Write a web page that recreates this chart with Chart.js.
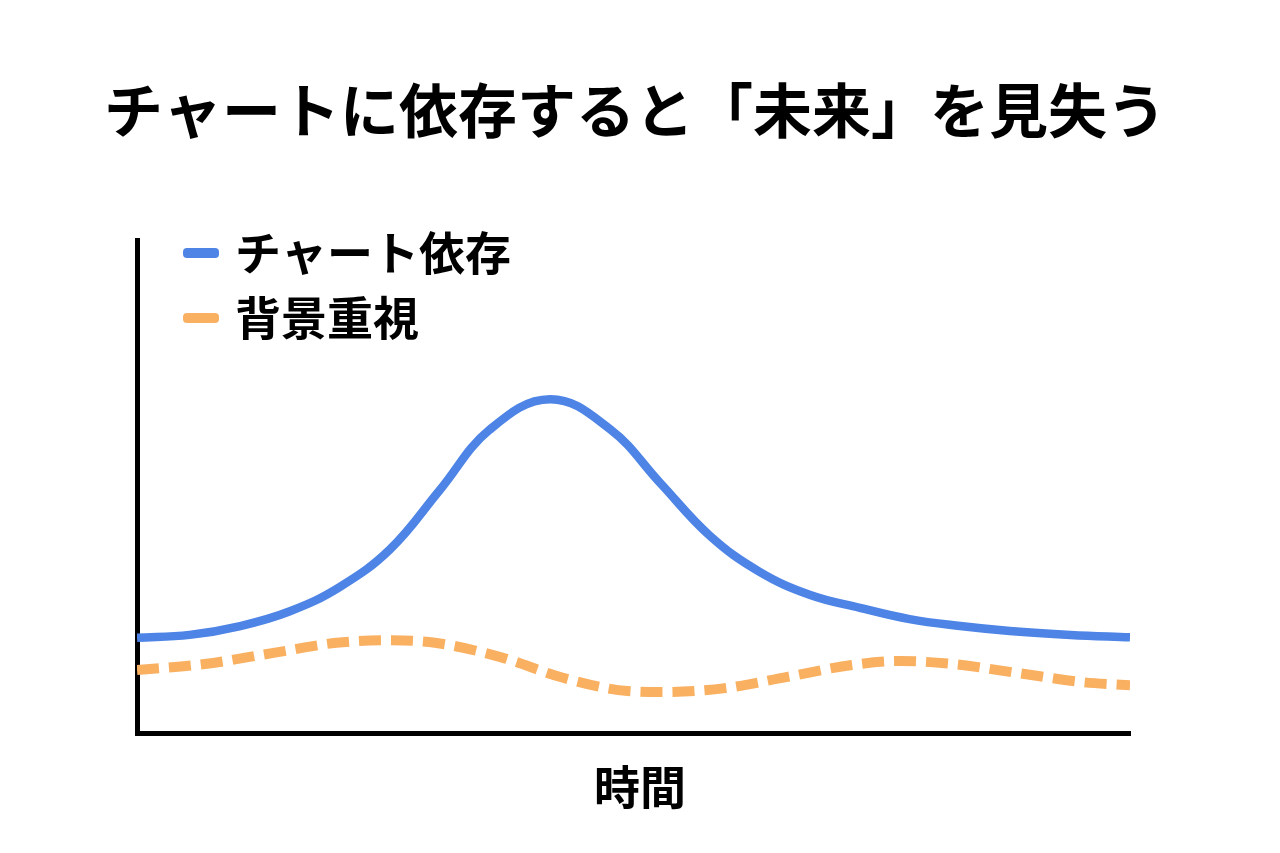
<!DOCTYPE html>
<html lang="ja">
<head>
<meta charset="utf-8">
<title>チャートに依存すると「未来」を見失う</title>
<script src="https://cdn.jsdelivr.net/npm/chart.js@4.4.1/dist/chart.umd.min.js"></script>
<style>
  html, body { margin: 0; padding: 0; background: #fff; }
  #wrap { width: 1280px; height: 853px; }
</style>
</head>
<body>
<div id="wrap"><canvas id="chart" width="1280" height="853"></canvas></div>
<script>
  var TITLE = 'チャートに依存すると「未来」を見失う';
  var X_LABEL = '時間';
  var SERIES_NAMES = ['チャート依存', '背景重視'];
  var FONT = '"Noto Sans CJK JP", "Noto Sans", sans-serif';

  // time runs 0..100, values 0..100 (no units shown on the chart)
  var chartTime   = [0, 5.3, 10.4, 15.4, 20.4, 25.5, 30.5, 35.5, 41.6, 47.6, 52.7, 57.7, 62.7, 67.8, 72.8, 77.8, 82.9, 87.9, 94.0, 100];
  var chartValues = [19.3, 19.9, 21.7, 24.7, 29.6, 37.3, 49.3, 61.5, 67.7, 61.7, 50.7, 40.0, 32.7, 28.0, 25.4, 23.1, 21.7, 20.7, 19.9, 19.4];

  var contextTime   = [0, 6.8, 13.6, 20.1, 25.0, 30.0, 36.6, 42.9, 49.4, 52.9, 59.2, 65.5, 72.0, 76.8, 82.1, 88.6, 95.3, 100];
  var contextValues = [12.8, 14.0, 16.2, 18.3, 18.8, 18.3, 15.4, 11.2, 8.5, 8.3, 9.1, 11.4, 13.8, 14.6, 14.0, 12.2, 10.3, 9.7];

  var BLUE = '#4d84e6';
  var ORANGE = '#f9b061';
  var INK = '#000';

  function _points(xs, ys) {
    return xs.map(function (x, i) { return { x: x, y: ys[i] }; });
  }

  // title, axis label and the in-plot legend are drawn here
  var chartText = {
    id: 'chartText',
    afterDraw: function (chart) {
      var ctx = chart.ctx;
      var area = chart.chartArea;
      ctx.save();
      ctx.fillStyle = INK;
      ctx.textAlign = 'center';
      ctx.textBaseline = 'middle';
      ctx.font = 'bold 59px ' + FONT;
      ctx.fillText(TITLE, 635, area.top - 129);
      ctx.font = 'bold 46px ' + FONT;
      ctx.fillText(X_LABEL, 640, area.bottom + 54);

      ctx.textAlign = 'left';
      chart.data.datasets.forEach(function (ds, i) {
        var y = area.top + 13 + i * 65;
        ctx.fillStyle = ds.borderColor;
        ctx.beginPath();
        if (ctx.roundRect) ctx.roundRect(area.left + 46, y - 5, 36, 10, 4);
        else ctx.rect(area.left + 46, y - 5, 36, 10);
        ctx.fill();
        ctx.fillStyle = INK;
        ctx.font = 'bold 46px ' + FONT;
        ctx.fillText(ds.label, area.left + 98, y);
      });
      ctx.restore();
    }
  };

  new Chart(document.getElementById('chart'), {
    type: 'line',
    data: {
      datasets: [
        {
          label: SERIES_NAMES[0],
          data: _points(chartTime, chartValues),
          borderColor: BLUE,
          backgroundColor: BLUE,
          borderWidth: 8.5,
          pointRadius: 0,
          tension: 0.4,
          fill: false
        },
        {
          label: SERIES_NAMES[1],
          data: _points(contextTime, contextValues),
          borderColor: ORANGE,
          backgroundColor: ORANGE,
          borderWidth: 10,
          borderDash: [22, 10],
          pointRadius: 0,
          cubicInterpolationMode: 'monotone',
          fill: false
        }
      ]
    },
    options: {
      responsive: false,
      animation: false,
      events: [],
      layout: { padding: { left: 137, right: 150, top: 240, bottom: 120 } },
      scales: {
        x: {
          type: 'linear',
          min: 0,
          max: 100,
          grid: { display: false, drawTicks: false },
          ticks: { display: false },
          border: { display: true, color: '#000', width: 5 }
        },
        y: {
          min: 0,
          max: 100,
          grid: { display: false, drawTicks: false },
          ticks: { display: false },
          border: { display: true, color: '#000', width: 5 }
        }
      },
      plugins: {
        legend: { display: false },
        tooltip: { enabled: false },
        title: { display: false }
      }
    },
    plugins: [chartText]
  });
</script>
</body>
</html>
